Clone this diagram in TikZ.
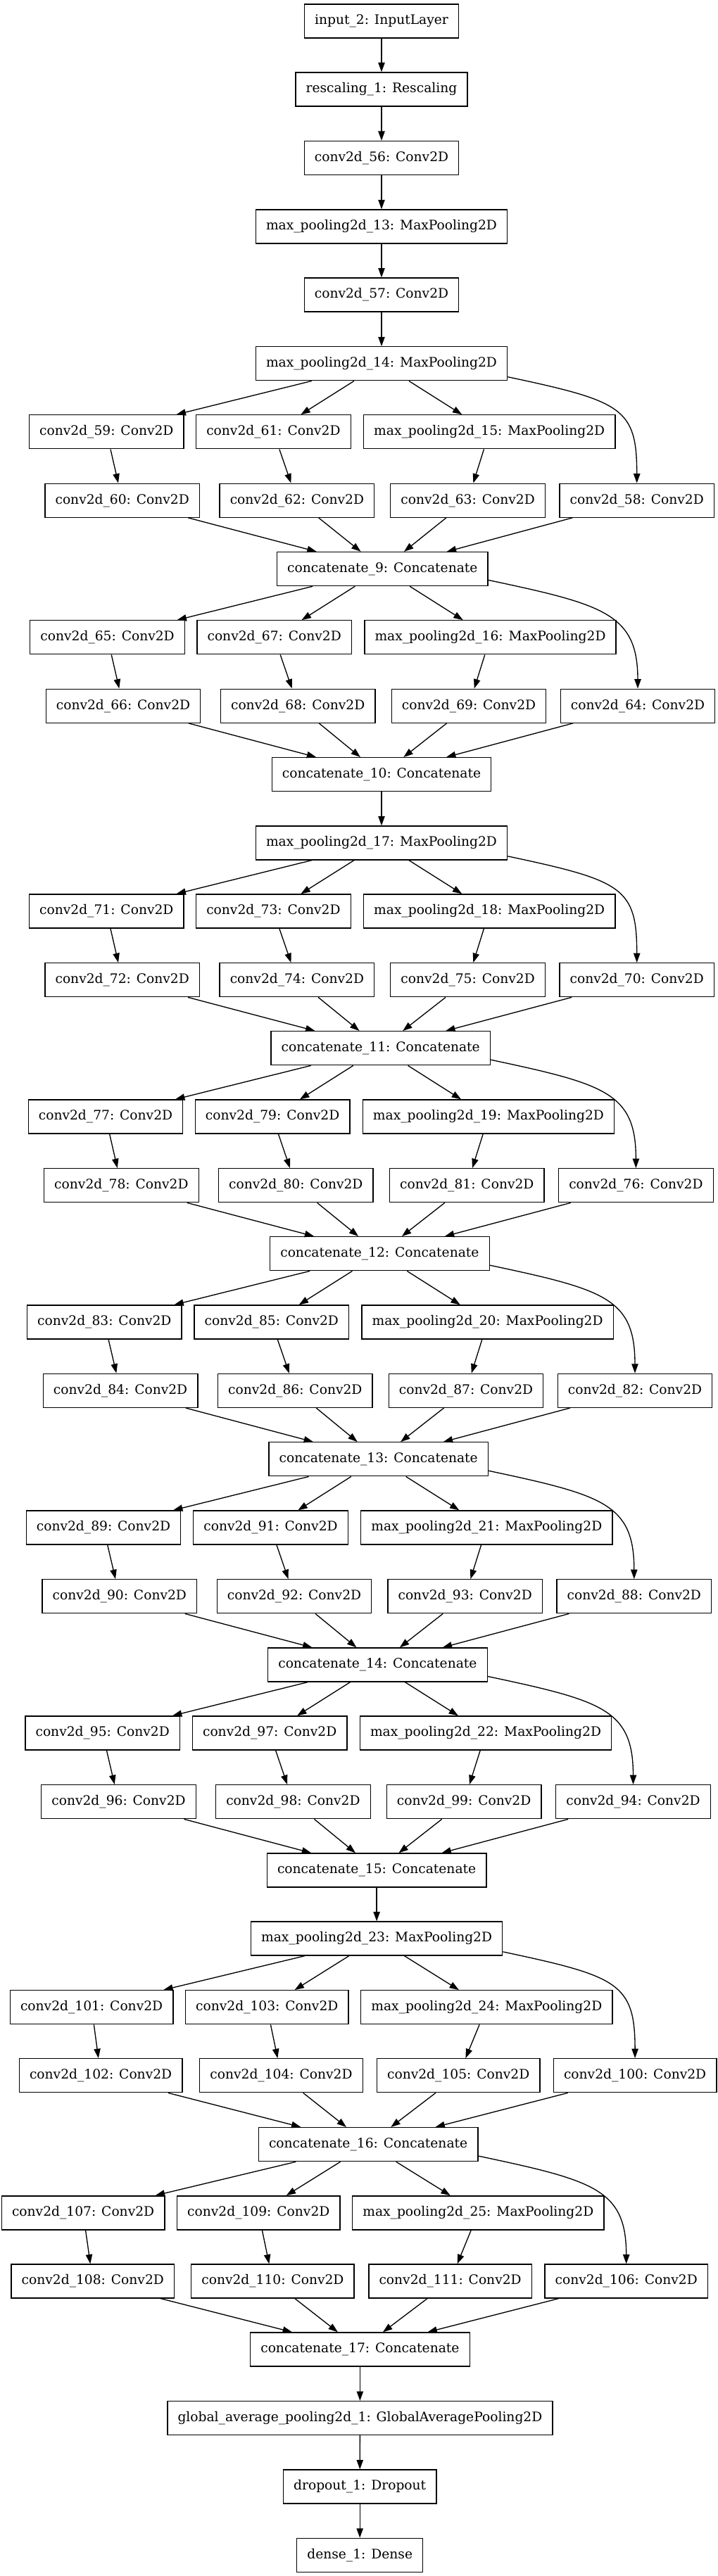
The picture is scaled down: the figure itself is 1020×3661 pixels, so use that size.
\documentclass[tikz,border=0pt]{standalone}
\usepackage{fontspec}
\setmainfont{DejaVu Serif}
\usetikzlibrary{arrows.meta}

\tikzset{
  layer/.style={draw, line width=1pt, minimum height=36pt, inner xsep=11pt, inner ysep=0pt,
    font=\fontsize{14pt}{16pt}\selectfont},
  flow/.style={line width=1pt, -{Triangle[length=10pt,width=7pt]}},
  side/.style={flow, out=-12, in=90, out distance=125pt, in distance=80pt}
}

\begin{document}
\begin{tikzpicture}[x=0.75pt,y=-0.75pt]
\useasboundingbox (0,0) rectangle (1020,3661);

% Text Node
\node[layer] (in2) at (542,30) {input\_2: InputLayer};
\node[layer] (resc1) at (542,127) {rescaling\_1: Rescaling};
\node[layer] (c56) at (542,224.5) {conv2d\_56: Conv2D};
\node[layer] (mp13) at (542,322) {max\_pooling2d\_13: MaxPooling2D};
\node[layer] (c57) at (542,419) {conv2d\_57: Conv2D};
\node[layer] (mp14) at (542,516.8) {max\_pooling2d\_14: MaxPooling2D};

% Text Node
\node[layer] (c59) at (151.3,613.8) {conv2d\_59: Conv2D};
\node[layer] (c61) at (388.4,613.8) {conv2d\_61: Conv2D};
\node[layer] (mp15) at (695.2,613.8) {max\_pooling2d\_15: MaxPooling2D};
\node[layer] (c60) at (173.7,711.2) {conv2d\_60: Conv2D};
\node[layer] (c62) at (421.9,711.2) {conv2d\_62: Conv2D};
\node[layer] (c63) at (664.6,711.2) {conv2d\_63: Conv2D};
\node[layer] (c58) at (904.7,711.2) {conv2d\_58: Conv2D};
\node[layer] (cat9) at (543.3,808.6) {concatenate\_9: Concatenate};

% Text Node
\node[layer] (c65) at (152.6,905.8) {conv2d\_65: Conv2D};
\node[layer] (c67) at (389.7,905.8) {conv2d\_67: Conv2D};
\node[layer] (mp16) at (696.5,905.8) {max\_pooling2d\_16: MaxPooling2D};
\node[layer] (c66) at (175,1003.2) {conv2d\_66: Conv2D};
\node[layer] (c68) at (423.2,1003.2) {conv2d\_68: Conv2D};
\node[layer] (c69) at (666,1003.2) {conv2d\_69: Conv2D};
\node[layer] (c64) at (906,1003.2) {conv2d\_64: Conv2D};
\node[layer] (cat10) at (542,1100.7) {concatenate\_10: Concatenate};
\node[layer] (mp17) at (542,1198) {max\_pooling2d\_17: MaxPooling2D};

% Text Node
\node[layer] (c71) at (151.3,1295) {conv2d\_71: Conv2D};
\node[layer] (c73) at (388.4,1295) {conv2d\_73: Conv2D};
\node[layer] (mp18) at (695.2,1295) {max\_pooling2d\_18: MaxPooling2D};
\node[layer] (c72) at (173.7,1392.7) {conv2d\_72: Conv2D};
\node[layer] (c74) at (421.9,1392.7) {conv2d\_74: Conv2D};
\node[layer] (c75) at (664.6,1392.7) {conv2d\_75: Conv2D};
\node[layer] (c70) at (904.7,1392.7) {conv2d\_70: Conv2D};
\node[layer] (cat11) at (540.7,1489.7) {concatenate\_11: Concatenate};

% Text Node
\node[layer] (c77) at (150,1587) {conv2d\_77: Conv2D};
\node[layer] (c79) at (387.1,1587) {conv2d\_79: Conv2D};
\node[layer] (mp19) at (693.9,1587) {max\_pooling2d\_19: MaxPooling2D};
\node[layer] (c78) at (172.4,1684.7) {conv2d\_78: Conv2D};
\node[layer] (c80) at (420.3,1684.7) {conv2d\_80: Conv2D};
\node[layer] (c81) at (663.3,1684.7) {conv2d\_81: Conv2D};
\node[layer] (c76) at (903.4,1684.7) {conv2d\_76: Conv2D};
\node[layer] (cat12) at (539.4,1781.7) {concatenate\_12: Concatenate};

% Text Node
\node[layer] (c83) at (148.3,1879) {conv2d\_83: Conv2D};
\node[layer] (c85) at (385.8,1879) {conv2d\_85: Conv2D};
\node[layer] (mp20) at (692.6,1879) {max\_pooling2d\_20: MaxPooling2D};
\node[layer] (c84) at (171.1,1976.3) {conv2d\_84: Conv2D};
\node[layer] (c86) at (419.3,1976.3) {conv2d\_86: Conv2D};
\node[layer] (c87) at (662,1976.3) {conv2d\_87: Conv2D};
\node[layer] (c82) at (902,1976.3) {conv2d\_82: Conv2D};
\node[layer] (cat13) at (537.7,2073.8) {concatenate\_13: Concatenate};

% Text Node
\node[layer] (c89) at (147,2171) {conv2d\_89: Conv2D};
\node[layer] (c91) at (384.5,2171) {conv2d\_91: Conv2D};
\node[layer] (mp21) at (691.3,2171) {max\_pooling2d\_21: MaxPooling2D};
\node[layer] (c90) at (169.8,2268.7) {conv2d\_90: Conv2D};
\node[layer] (c92) at (418,2268.7) {conv2d\_92: Conv2D};
\node[layer] (c93) at (660.7,2268.7) {conv2d\_93: Conv2D};
\node[layer] (c88) at (900.8,2268.7) {conv2d\_88: Conv2D};
\node[layer] (cat14) at (536.4,2366) {concatenate\_14: Concatenate};

% Text Node
\node[layer] (c95) at (145.7,2463) {conv2d\_95: Conv2D};
\node[layer] (c97) at (383.2,2463) {conv2d\_97: Conv2D};
\node[layer] (mp22) at (690,2463) {max\_pooling2d\_22: MaxPooling2D};
\node[layer] (c96) at (168.5,2560.7) {conv2d\_96: Conv2D};
\node[layer] (c98) at (416.4,2560.7) {conv2d\_98: Conv2D};
\node[layer] (c99) at (659.1,2560.7) {conv2d\_99: Conv2D};
\node[layer] (c94) at (899.5,2560.7) {conv2d\_94: Conv2D};
\node[layer] (cat15) at (535.1,2658) {concatenate\_15: Concatenate};
\node[layer] (mp23) at (535.1,2755) {max\_pooling2d\_23: MaxPooling2D};

% Text Node
\node[layer] (c101) at (130.1,2852.7) {conv2d\_101: Conv2D};
\node[layer] (c103) at (379.3,2852.7) {conv2d\_103: Conv2D};
\node[layer] (mp24) at (691.3,2852.7) {max\_pooling2d\_24: MaxPooling2D};
\node[layer] (c102) at (143.1,2949.7) {conv2d\_102: Conv2D};
\node[layer] (c104) at (399.5,2949.7) {conv2d\_104: Conv2D};
\node[layer] (c105) at (651.2,2949.7) {conv2d\_105: Conv2D};
\node[layer] (c100) at (902.1,2949.7) {conv2d\_100: Conv2D};
\node[layer] (cat16) at (523.1,3047.6) {concatenate\_16: Concatenate};

% Text Node
\node[layer] (c107) at (118.1,3144.8) {conv2d\_107: Conv2D};
\node[layer] (c109) at (367.3,3144.8) {conv2d\_109: Conv2D};
\node[layer] (mp25) at (679.3,3144.8) {max\_pooling2d\_25: MaxPooling2D};
\node[layer] (c108) at (131.8,3242) {conv2d\_108: Conv2D};
\node[layer] (c110) at (387.4,3242) {conv2d\_110: Conv2D};
\node[layer] (c111) at (639.6,3242) {conv2d\_111: Conv2D};
\node[layer] (c106) at (889.7,3242) {conv2d\_106: Conv2D};
\node[layer] (cat17) at (511.4,3339) {concatenate\_17: Concatenate};
\node[layer] (gap1) at (511.4,3436.5) {global\_average\_pooling2d\_1: GlobalAveragePooling2D};
\node[layer] (drop1) at (511.2,3534) {dropout\_1: Dropout};
\node[layer] (dense1) at (511.2,3631.3) {dense\_1: Dense};

%Straight Lines
\draw[flow] (in2) -- (resc1);
\draw[flow] (resc1) -- (c56);
\draw[flow] (c56) -- (mp13);
\draw[flow] (mp13) -- (c57);
\draw[flow] (c57) -- (mp14);

%Straight Lines
\draw[flow] (mp14) edge (c59) edge (c61) edge (mp15);
\draw[side] (mp14.-6) to (c58);
\draw[flow] (c59) -- (c60);
\draw[flow] (c61) -- (c62);
\draw[flow] (mp15) -- (c63);
\draw[flow] (c60) edge (cat9) (c62) edge (cat9) (c63) edge (cat9) (c58) edge (cat9);

%Straight Lines
\draw[flow] (cat9) edge (c65) edge (c67) edge (mp16);
\draw[side] (cat9.-6) to (c64);
\draw[flow] (c65) -- (c66);
\draw[flow] (c67) -- (c68);
\draw[flow] (mp16) -- (c69);
\draw[flow] (c66) edge (cat10) (c68) edge (cat10) (c69) edge (cat10) (c64) edge (cat10);
\draw[flow] (cat10) -- (mp17);

%Straight Lines
\draw[flow] (mp17) edge (c71) edge (c73) edge (mp18);
\draw[side] (mp17.-6) to (c70);
\draw[flow] (c71) -- (c72);
\draw[flow] (c73) -- (c74);
\draw[flow] (mp18) -- (c75);
\draw[flow] (c72) edge (cat11) (c74) edge (cat11) (c75) edge (cat11) (c70) edge (cat11);

%Straight Lines
\draw[flow] (cat11) edge (c77) edge (c79) edge (mp19);
\draw[side] (cat11.-6) to (c76);
\draw[flow] (c77) -- (c78);
\draw[flow] (c79) -- (c80);
\draw[flow] (mp19) -- (c81);
\draw[flow] (c78) edge (cat12) (c80) edge (cat12) (c81) edge (cat12) (c76) edge (cat12);

%Straight Lines
\draw[flow] (cat12) edge (c83) edge (c85) edge (mp20);
\draw[side] (cat12.-6) to (c82);
\draw[flow] (c83) -- (c84);
\draw[flow] (c85) -- (c86);
\draw[flow] (mp20) -- (c87);
\draw[flow] (c84) edge (cat13) (c86) edge (cat13) (c87) edge (cat13) (c82) edge (cat13);

%Straight Lines
\draw[flow] (cat13) edge (c89) edge (c91) edge (mp21);
\draw[side] (cat13.-6) to (c88);
\draw[flow] (c89) -- (c90);
\draw[flow] (c91) -- (c92);
\draw[flow] (mp21) -- (c93);
\draw[flow] (c90) edge (cat14) (c92) edge (cat14) (c93) edge (cat14) (c88) edge (cat14);

%Straight Lines
\draw[flow] (cat14) edge (c95) edge (c97) edge (mp22);
\draw[side] (cat14.-6) to (c94);
\draw[flow] (c95) -- (c96);
\draw[flow] (c97) -- (c98);
\draw[flow] (mp22) -- (c99);
\draw[flow] (c96) edge (cat15) (c98) edge (cat15) (c99) edge (cat15) (c94) edge (cat15);
\draw[flow] (cat15) -- (mp23);

%Straight Lines
\draw[flow] (mp23) edge (c101) edge (c103) edge (mp24);
\draw[side] (mp23.-6) to (c100);
\draw[flow] (c101) -- (c102);
\draw[flow] (c103) -- (c104);
\draw[flow] (mp24) -- (c105);
\draw[flow] (c102) edge (cat16) (c104) edge (cat16) (c105) edge (cat16) (c100) edge (cat16);

%Straight Lines
\draw[flow] (cat16) edge (c107) edge (c109) edge (mp25);
\draw[side] (cat16.-6) to (c106);
\draw[flow] (c107) -- (c108);
\draw[flow] (c109) -- (c110);
\draw[flow] (mp25) -- (c111);
\draw[flow] (c108) edge (cat17) (c110) edge (cat17) (c111) edge (cat17) (c106) edge (cat17);
\draw[flow] (cat17) -- (gap1);
\draw[flow] (gap1) -- (drop1);
\draw[flow] (drop1) -- (dense1);

\end{tikzpicture}
\end{document}
